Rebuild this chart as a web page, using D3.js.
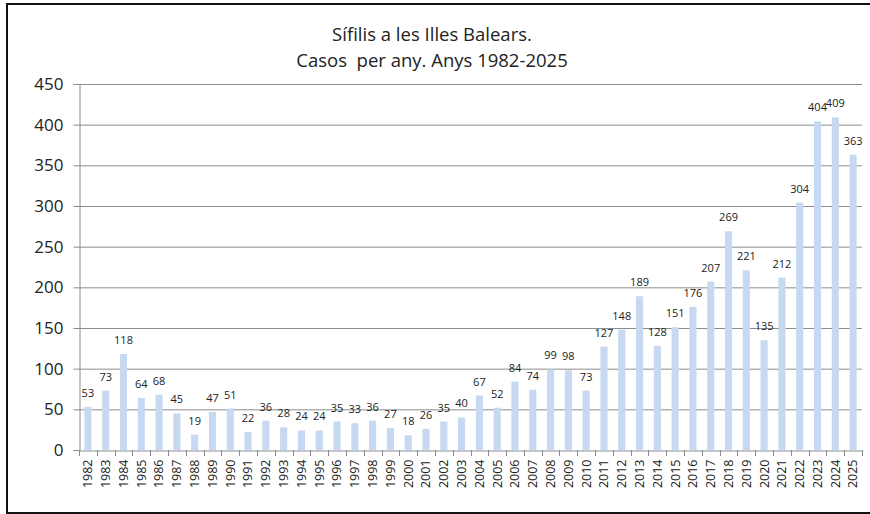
<!DOCTYPE html>
<html><head><meta charset="utf-8">
<script src="https://cdn.jsdelivr.net/npm/d3@7"></script>
<style>body{margin:0;background:#fff}svg{display:block}text{font-family:"Open Sans",sans-serif;fill:#222}</style>
</head><body><svg id="c" width="870" height="514"></svg>
<script>
const years = ["1982","1983","1984","1985","1986","1987","1988","1989","1990","1991","1992","1993","1994","1995","1996","1997","1998","1999","2000","2001","2002","2003","2004","2005","2006","2007","2008","2009","2010","2011","2012","2013","2014","2015","2016","2017","2018","2019","2020","2021","2022","2023","2024","2025"];
const cases = [53,73,118,64,68,45,19,47,51,22,36,28,24,24,35,33,36,27,18,26,35,40,67,52,84,74,99,98,73,127,148,189,128,151,176,207,269,221,135,212,304,404,409,363];
const yTicks = [0,50,100,150,200,250,300,350,400,450];
const titleLines = ["Sífilis a les Illes Balears.", "Casos  per any. Anys 1982-2025"];

const svg = d3.select("#c");
svg.append("rect").attr("x",7).attr("y",4).attr("width",880).attr("height",509)
  .attr("fill","#fff").attr("stroke","#111").attr("stroke-width",2);

const L=79, R=862, T=84, B=450;
const x = d3.scaleBand().domain(years).range([L,R]).paddingInner(0.6).paddingOuter(0.3);
const y = d3.scaleLinear().domain([0,450]).range([B,T]);

// gridlines
svg.append("g").selectAll("line").data(yTicks.filter(d=>d>0)).join("line")
  .attr("x1",L).attr("x2",R).attr("y1",d=>y(d)+0.5).attr("y2",d=>y(d)+0.5)
  .attr("stroke","#8c8c8c").attr("stroke-width",1);

// y axis
const ya = svg.append("g").attr("transform",`translate(${L+0.5},0)`)
  .call(d3.axisLeft(y).tickValues(yTicks).tickSize(6).tickPadding(10));
ya.select(".domain").attr("stroke","#8c8c8c");
ya.selectAll(".tick line").attr("stroke","#8c8c8c");
ya.selectAll("text").attr("font-size",17).attr("font-family","Open Sans").attr("fill","#222");

// bars
svg.append("g").selectAll("rect").data(cases).join("rect")
  .attr("x",(d,i)=>x(years[i])).attr("width",x.bandwidth())
  .attr("y",d=>y(d)).attr("height",d=>B-y(d)).attr("fill","#c6d9f1");

// x axis
const xa = svg.append("g").attr("transform",`translate(0,${B+0.5})`)
  .call(d3.axisBottom(x).tickSize(0).tickPadding(6));
xa.select(".domain").attr("stroke","#8c8c8c");
xa.selectAll(".tick text").attr("font-size",12.5).attr("font-family","Open Sans").attr("fill","#222")
  .attr("transform","rotate(-90)").attr("text-anchor","end").attr("x",-9).attr("y",0).attr("dy","0.35em");
// separator ticks between categories
const edges = d3.range(years.length+1).map(i=>L + (R-L)*i/years.length);
svg.append("g").selectAll("line").data(edges).join("line")
  .attr("x1",d=>Math.round(d)+0.5).attr("x2",d=>Math.round(d)+0.5).attr("y1",B).attr("y2",B+6)
  .attr("stroke","#8c8c8c");

// data labels
svg.append("g").selectAll("text").data(cases).join("text")
  .attr("x",(d,i)=>x(years[i])+x.bandwidth()/2).attr("y",d=>y(d)-10)
  .attr("text-anchor","middle").attr("font-size",11).text(d=>d);

// title
svg.append("g").selectAll("text").data(titleLines).join("text")
  .attr("x",432).attr("y",(d,i)=>41+i*26).attr("text-anchor","middle").attr("font-size",18.5)
  .style("white-space","pre").attr("xml:space","preserve").text(d=>d);
</script></body></html>
